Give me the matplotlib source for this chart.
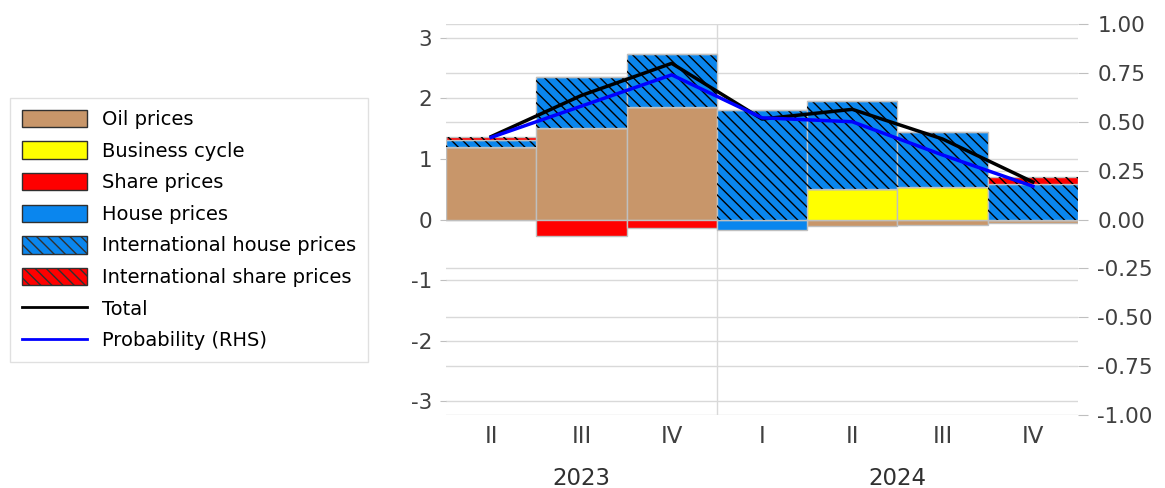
import numpy as np
import matplotlib
matplotlib.use('Agg')
import matplotlib.pyplot as plt
from matplotlib.patches import Patch
from matplotlib.lines import Line2D

plt.rcParams['font.family'] = ['DejaVu Sans']
plt.rcParams['hatch.linewidth'] = 1.0
plt.rcParams['axes.unicode_minus'] = False

# data
quarters = ['II', 'III', 'IV', 'I', 'II', 'III', 'IV']
years = ['2023', '2024']
oil = [1.20, 1.51, 1.86, 0.00, -0.10, -0.09, -0.06]
business = [0.00, 0.00, 0.00, 0.00, 0.51, 0.54, 0.00]
share = [0.00, -0.27, -0.14, 0.00, 0.00, 0.00, 0.00]
house = [0.00, 0.00, 0.00, -0.17, 0.00, 0.00, 0.00]
intl_house = [0.12, 0.85, 0.87, 1.81, 1.44, 0.91, 0.58]
intl_share = [0.05, 0.00, 0.00, 0.00, 0.00, 0.00, 0.12]
total = [1.37, 2.05, 2.58, 1.66, 1.82, 1.33, 0.62]
prob = [0.42, 0.58, 0.74, 0.52, 0.50, 0.33, 0.17]

series = [
    ('Oil prices', oil, '#C8966A', None),
    ('Business cycle', business, '#FFFF00', None),
    ('Share prices', share, '#FF0000', None),
    ('House prices', house, '#0A86EE', None),
    ('International house prices', intl_house, '#0A86EE', '\\\\\\'),
    ('International share prices', intl_share, '#FF0000', '\\\\\\'),
]

fig = plt.figure(figsize=(11.65, 4.88), dpi=100)
ax = fig.add_axes([446 / 1165, 1 - 415 / 488, (1078 - 446) / 1165, (415 - 24) / 488])
ax2 = ax.twinx()
# bars above the right-axis gridlines
ax.set_zorder(2)
ax2.set_zorder(1)
ax.patch.set_visible(False)

x = np.arange(len(quarters))
pos_bottom = np.zeros(len(x))
neg_bottom = np.zeros(len(x))
for name, vals, col, hatch in series:
    v = np.array(vals)
    bottom = np.where(v >= 0, pos_bottom, neg_bottom)
    ax.bar(x, v, bottom=bottom, width=1.0, color=col, edgecolor='#BFBFBF', linewidth=1, zorder=2)
    if hatch:
        ax.bar(x, v, bottom=bottom, width=1.0, fill=False, edgecolor='black', hatch=hatch, linewidth=0, zorder=2)
    pos_bottom += np.where(v > 0, v, 0)
    neg_bottom += np.where(v < 0, v, 0)

ax.set_xlim(-0.5, 6.5)
ax.set_ylim(-3.23, 3.23)
ax2.set_ylim(-1.0, 1.0)

ax.plot(x, total, color='black', linewidth=2.5, zorder=4)
ax.plot(x, prob, color='#0000FF', linewidth=2.5, zorder=4, transform=ax2.transData)

ax.set_yticks([-3, -2, -1, 0, 1, 2, 3])
rticks = np.arange(-1.0, 1.01, 0.25)
ax2.set_yticks(rticks)
ax2.set_yticklabels([f'{t:.2f}' for t in rticks])

ax.yaxis.grid(True, color='#D9D9D9', linewidth=1, zorder=0)
ax2.yaxis.grid(True, color='#D9D9D9', linewidth=1, zorder=0)
ax.set_axisbelow(True)
ax.axvline(2.5, color='#D9D9D9', linewidth=1, zorder=1)

for a in (ax, ax2):
    for s in a.spines.values():
        s.set_visible(False)
ax.tick_params(axis='y', length=4, color='#BFBFBF', labelsize=15.5, pad=6, labelcolor='#404040')
ax2.tick_params(axis='y', length=7, color='#BFBFBF', labelsize=15.5, pad=7, labelcolor='#404040')
ax.set_xticks(x)
ax.set_xticklabels(quarters, fontsize=16.5, color='#404040')
ax.tick_params(axis='x', length=0, pad=7)

ax.text(1, -0.162, years[0], transform=ax.get_xaxis_transform(), ha='center', va='center', fontsize=16.5, color='#303030')
ax.text(4.5, -0.162, years[1], transform=ax.get_xaxis_transform(), ha='center', va='center', fontsize=16.5, color='#303030')

handles = []
for name, vals, col, hatch in series:
    handles.append(Patch(facecolor=col, edgecolor='#303030', hatch=hatch, label=name))
handles.append(Line2D([], [], color='black', linewidth=2, label='Total'))
handles.append(Line2D([], [], color='#0000FF', linewidth=2, label='Probability (RHS)'))

fig.legend(handles=handles, loc='upper left', bbox_to_anchor=(10 / 1165, 1 - 98 / 488),
           borderaxespad=0, frameon=True, fancybox=False, edgecolor='#D9D9D9', fontsize=14,
           handlelength=3.35, handleheight=1.0, labelspacing=0.63, borderpad=0.6,
           handletextpad=0.77)

fig.savefig('out.png', dpi=100)
